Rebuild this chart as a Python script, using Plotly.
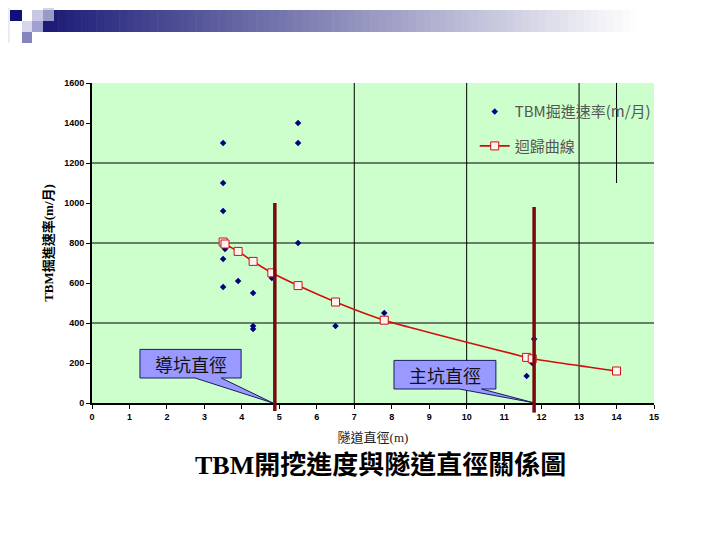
import plotly.graph_objects as go

# ---- data ----
scatter_x = [3.5, 3.5, 3.5, 3.5, 3.5, 3.55, 3.9, 4.3, 4.3, 4.3, 4.8, 5.5, 5.5, 5.5, 6.5, 7.8, 11.6, 11.75, 11.8]
scatter_y = [1300, 1100, 960, 720, 580, 770, 610, 550, 385, 370, 625, 1400, 1300, 800, 385, 450, 135, 200, 320]

reg_x = [3.5, 3.55, 3.9, 4.3, 4.8, 5.5, 6.5, 7.8, 11.6, 11.75, 14.0]
reg_y = [805, 795, 758, 708, 651, 587, 505, 414, 228, 221, 160]

x_ticks = list(range(0, 16))
y_ticks = list(range(0, 1601, 200))
grid_x = [7, 10, 13]
grid_y = [400, 800, 1200]

pilot_d = 4.88      # 導坑直徑
pilot_top = 1000
main_d = 11.8       # 主坑直徑
main_top = 980

series_names = ["TBM掘進速率(m/月)", "迴歸曲線"]
Y_MAX = 1600
X_MAX = 15

fig = go.Figure()
fig.add_trace(go.Scatter(
    x=scatter_x, y=scatter_y, mode="markers", name=series_names[0],
    marker=dict(symbol="diamond", size=5, color="#000080"),
    legendgroup="a"))
fig.add_trace(go.Scatter(
    x=reg_x, y=reg_y, mode="lines+markers", name=series_names[1],
    line=dict(color="#d01010", width=1.6, shape="spline", smoothing=0.6),
    marker=dict(symbol="square", size=8, color="#fff4f4", line=dict(color="#d01010", width=1)),
    legendgroup="b"))

# page body has an 8px margin: compensate so the screen layout matches
OFF = 8
W, H = 720, 540
ML, MR, MT, MB = 92 - OFF, 720 - (654 - OFF), 83 - OFF, 540 - (403 - OFF)
PW, PH = W - ML - MR, H - MT - MB

def px(x):   # screen pixel x -> paper
    return (x - OFF - ML) / PW

def py(y):   # screen pixel y -> paper
    return 1 - (y - OFF - MT) / PH

shapes = []
# grid lines
for gx in grid_x:
    shapes.append(dict(type="line", xref="x", yref="paper", x0=gx, x1=gx, y0=0, y1=1,
                       line=dict(color="black", width=1), layer="below"))
for gy in grid_y:
    shapes.append(dict(type="line", xref="paper", yref="y", x0=0, x1=1, y0=gy, y1=gy,
                       line=dict(color="black", width=1), layer="below"))
shapes.append(dict(type="line", xref="x", yref="y", x0=14, x1=14, y0=1100, y1=1600,
                   line=dict(color="black", width=1), layer="below"))

# callouts (rectangle + wedge)
def callout(x0, x1, y0, y1, wx0, wx1, tipx, tipy):
    p = (f"M {x0},{y1} L {x1},{y1} L {x1},{y0} L {wx1},{y0} L {tipx},{tipy} "
         f"L {wx0},{y0} L {x0},{y0} Z")
    return dict(type="path", xref="x", yref="y", path=p,
                fillcolor="#9999ff", line=dict(color="#1a1a60", width=1))

shapes.append(callout(1.28, 3.98, 125, 268, 2.75, 3.45, pilot_d - 0.05, 0))
shapes.append(callout(8.06, 10.78, 70, 213, 9.8, 10.4, main_d - 0.03, 2))

# dark red vertical diameter lines
shapes.append(dict(type="line", xref="x", yref="paper", x0=pilot_d, x1=pilot_d,
                   y0=-0.025, y1=pilot_top / Y_MAX, line=dict(color="#7a0a0a", width=3.5)))
shapes.append(dict(type="line", xref="x", yref="paper", x0=main_d, x1=main_d,
                   y0=-0.03, y1=main_top / Y_MAX, line=dict(color="#7a0a0a", width=3.5)))

# top decoration: gradient bar + squares
n = 90
bx0, bx1 = 43, 728
for i in range(n):
    t = i / (n - 1)
    c0 = (28, 28, 120)
    f = min(1, t * 1.15)
    r = int(c0[0] + (255 - c0[0]) * f)
    g = int(c0[1] + (255 - c0[1]) * f)
    b = int(c0[2] + (255 - c0[2]) * f)
    xa = bx0 + (bx1 - bx0) * i / n
    xb = bx0 + (bx1 - bx0) * (i + 1) / n + 0.6
    shapes.append(dict(type="rect", xref="paper", yref="paper", x0=px(xa), x1=px(xb),
                       y0=py(32), y1=py(10), fillcolor=f"rgb({r},{g},{b})",
                       line=dict(width=0), layer="above"))
squares = [
    (0, 10, 0, 43, "#ececf6"),
    (10, 22, 10, 21, "#10107a"),
    (32, 43, 10, 21, "#c8c8e6"),
    (43, 54, 0, 10, "#d4d4ea"),
    (43, 54, 10, 21, "#9a9ac8"),
    (22, 32, 21, 32, "#d6d6ec"),
    (32, 43, 21, 32, "#a0a0d0"),
    (22, 32, 32, 43, "#8484c0"),
]
for (xa, xb, ya, yb, col) in squares:
    shapes.append(dict(type="rect", xref="paper", yref="paper", x0=px(xa), x1=px(xb),
                       y0=py(yb), y1=py(ya), fillcolor=col, line=dict(width=0), layer="above"))

cjk = "Noto Sans CJK TC"
annotations = [
    dict(x=(1.28 + 3.98) / 2, y=(125 + 268) / 2, xref="x", yref="y", text="導坑直徑",
         showarrow=False, font=dict(family=cjk, size=18, color="#111")),
    dict(x=(8.06 + 10.78) / 2, y=(70 + 213) / 2, xref="x", yref="y", text="主坑直徑",
         showarrow=False, font=dict(family=cjk, size=18, color="#111")),
    dict(x=px(380), y=py(465), xref="paper", yref="paper", xanchor="center", yanchor="middle",
         text="<b>TBM開挖進度與隧道直徑關係圖</b>",
         showarrow=False, font=dict(family="Liberation Serif, " + cjk, size=26, color="black")),
]

tickfont = dict(family="Liberation Sans", size=9, color="black", weight="bold")
fig.update_layout(
    width=W, height=H,
    margin=dict(l=ML, r=MR, t=MT, b=MB, pad=0),
    paper_bgcolor="white", plot_bgcolor="#ccffcc",
    shapes=shapes, annotations=annotations,
    showlegend=True,
    legend=dict(x=0.681, y=0.962, xanchor="left", yanchor="top", bgcolor="rgba(0,0,0,0)",
                font=dict(family=cjk, size=15, color="#555"), tracegroupgap=12,
                itemwidth=30),
    xaxis=dict(range=[0, X_MAX], tickvals=x_ticks, ticktext=[str(v) for v in x_ticks],
               showgrid=False, zeroline=False, showline=True, linecolor="black", linewidth=2,
               ticks="outside", ticklen=4, tickcolor="black", tickwidth=1, tickfont=tickfont,
               title=dict(text="隧道直徑(m)", font=dict(family="Liberation Serif, " + cjk, size=13, color="#222"),
                          standoff=12)),
    yaxis=dict(range=[0, Y_MAX], tickvals=y_ticks, ticktext=[str(v) for v in y_ticks],
               showgrid=False, zeroline=False, showline=True, linecolor="black", linewidth=2,
               ticks="outside", ticklen=4, tickcolor="black", tickwidth=1, tickfont=tickfont,
               title=dict(text="<b>TBM掘進速率(m/月)</b>", font=dict(family="Liberation Serif, " + cjk, size=13, color="black"),
                          standoff=8)),
)

fig.write_html("out.html")
